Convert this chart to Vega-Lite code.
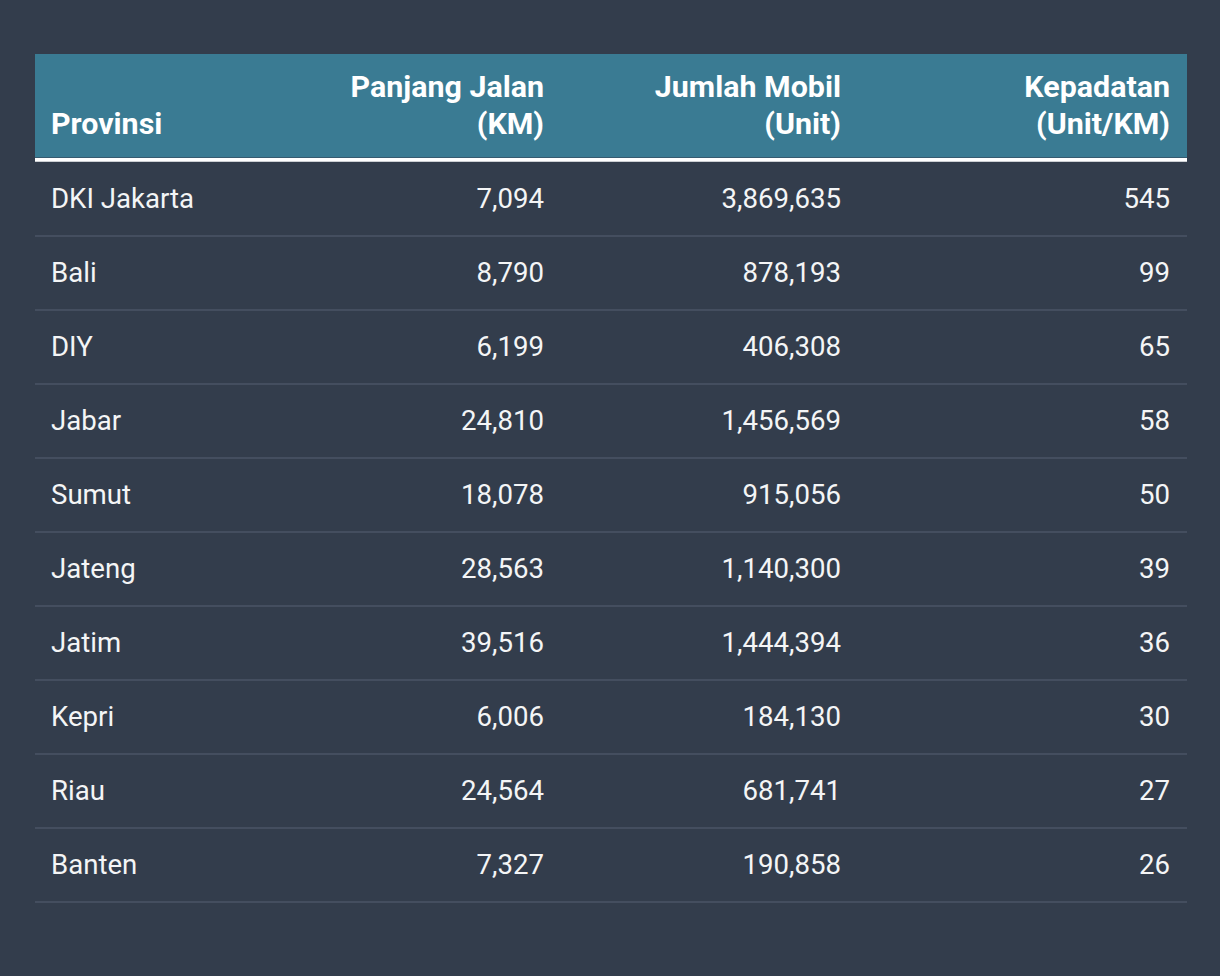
{
  "$schema": "https://vega.github.io/schema/vega-lite/v6.json",
  "background": "#333d4c",
  "padding": {"left": 34, "right": 34, "top": 54, "bottom": 75},
  "autosize": {"type": "pad"},
  "spacing": 0,
  "config": {"view": {"stroke": null}, "font": "Roboto"},
  "datasets": {
    "rows": [
      {"provinsi": "DKI Jakarta", "panjang_km": 7094, "jumlah_mobil": 3869635, "kepadatan": 545},
      {"provinsi": "Bali", "panjang_km": 8790, "jumlah_mobil": 878193, "kepadatan": 99},
      {"provinsi": "DIY", "panjang_km": 6199, "jumlah_mobil": 406308, "kepadatan": 65},
      {"provinsi": "Jabar", "panjang_km": 24810, "jumlah_mobil": 1456569, "kepadatan": 58},
      {"provinsi": "Sumut", "panjang_km": 18078, "jumlah_mobil": 915056, "kepadatan": 50},
      {"provinsi": "Jateng", "panjang_km": 28563, "jumlah_mobil": 1140300, "kepadatan": 39},
      {"provinsi": "Jatim", "panjang_km": 39516, "jumlah_mobil": 1444394, "kepadatan": 36},
      {"provinsi": "Kepri", "panjang_km": 6006, "jumlah_mobil": 184130, "kepadatan": 30},
      {"provinsi": "Riau", "panjang_km": 24564, "jumlah_mobil": 681741, "kepadatan": 27},
      {"provinsi": "Banten", "panjang_km": 7327, "jumlah_mobil": 190858, "kepadatan": 26}
    ],
    "header": [{"h": 1}]
  },
  "vconcat": [
    {
      "width": 1152,
      "height": 103.5,
      "view": {"fill": "#3a7b93", "stroke": null},
      "data": {"name": "header"},
      "layer": [
        {
          "mark": {"type": "text", "align": "left", "baseline": "middle", "dy": -17.5, "font": "Roboto", "fontWeight": "bold", "fontSize": 30.4, "lineHeight": 37, "color": "#ffffff"},
          "encoding": {
            "x": {"datum": 1.389, "type": "quantitative", "scale": {"domain": [0, 100], "nice": false, "zero": false}, "axis": null},
            "text": {"value": ["", "Provinsi"]}
          }
        },
        {
          "mark": {"type": "text", "align": "right", "baseline": "middle", "dy": -17.5, "font": "Roboto", "fontWeight": "bold", "fontSize": 30.4, "lineHeight": 37, "color": "#ffffff"},
          "encoding": {
            "x": {"datum": 44.184, "type": "quantitative", "scale": {"domain": [0, 100], "nice": false, "zero": false}, "axis": null},
            "text": {"value": ["Panjang Jalan", "(KM)"]}
          }
        },
        {
          "mark": {"type": "text", "align": "right", "baseline": "middle", "dy": -17.5, "font": "Roboto", "fontWeight": "bold", "fontSize": 30.4, "lineHeight": 37, "color": "#ffffff"},
          "encoding": {
            "x": {"datum": 69.965, "type": "quantitative", "scale": {"domain": [0, 100], "nice": false, "zero": false}, "axis": null},
            "text": {"value": ["Jumlah Mobil", "(Unit)"]}
          }
        },
        {
          "mark": {"type": "text", "align": "right", "baseline": "middle", "dy": -17.5, "font": "Roboto", "fontWeight": "bold", "fontSize": 30.4, "lineHeight": 37, "color": "#ffffff"},
          "encoding": {
            "x": {"datum": 98.524, "type": "quantitative", "scale": {"domain": [0, 100], "nice": false, "zero": false}, "axis": null},
            "text": {"value": ["Kepadatan", "(Unit/KM)"]}
          }
        }
      ]
    },
    {
      "width": 1152,
      "height": 3.5,
      "view": {"fill": "#ffffff", "stroke": null},
      "data": {"name": "header"},
      "mark": {"type": "rect", "color": "#ffffff"},
      "encoding": {}
    },
    {
      "width": 1152,
      "height": 740,
      "data": {"name": "rows"},
      "layer": [
        {
          "mark": {"type": "rule", "color": "#4b5566", "strokeWidth": 1.5},
          "encoding": {
            "y": {"field": "provinsi", "type": "nominal", "sort": null, "bandPosition": 1, "scale": {"paddingInner": 0, "paddingOuter": 0}, "axis": null}
          }
        },
        {
          "mark": {"type": "text", "align": "left", "baseline": "middle", "dy": 1, "font": "Roboto", "fontSize": 27.6, "color": "#f4f5f6"},
          "encoding": {
            "y": {"field": "provinsi", "type": "nominal", "sort": null, "scale": {"paddingInner": 0, "paddingOuter": 0}, "axis": null},
            "x": {"datum": 1.389, "type": "quantitative", "scale": {"domain": [0, 100], "nice": false, "zero": false}, "axis": null},
            "text": {"field": "provinsi", "type": "nominal"}
          }
        },
        {
          "mark": {"type": "text", "align": "right", "baseline": "middle", "dy": 1, "font": "Roboto", "fontSize": 27.6, "color": "#f4f5f6"},
          "encoding": {
            "y": {"field": "provinsi", "type": "nominal", "sort": null, "scale": {"paddingInner": 0, "paddingOuter": 0}, "axis": null},
            "x": {"datum": 44.184, "type": "quantitative", "scale": {"domain": [0, 100], "nice": false, "zero": false}, "axis": null},
            "text": {"field": "panjang_km", "type": "quantitative", "format": ",.0f"}
          }
        },
        {
          "mark": {"type": "text", "align": "right", "baseline": "middle", "dy": 1, "font": "Roboto", "fontSize": 27.6, "color": "#f4f5f6"},
          "encoding": {
            "y": {"field": "provinsi", "type": "nominal", "sort": null, "scale": {"paddingInner": 0, "paddingOuter": 0}, "axis": null},
            "x": {"datum": 69.965, "type": "quantitative", "scale": {"domain": [0, 100], "nice": false, "zero": false}, "axis": null},
            "text": {"field": "jumlah_mobil", "type": "quantitative", "format": ",.0f"}
          }
        },
        {
          "mark": {"type": "text", "align": "right", "baseline": "middle", "dy": 1, "font": "Roboto", "fontSize": 27.6, "color": "#f4f5f6"},
          "encoding": {
            "y": {"field": "provinsi", "type": "nominal", "sort": null, "scale": {"paddingInner": 0, "paddingOuter": 0}, "axis": null},
            "x": {"datum": 98.524, "type": "quantitative", "scale": {"domain": [0, 100], "nice": false, "zero": false}, "axis": null},
            "text": {"field": "kepadatan", "type": "quantitative", "format": ",.0f"}
          }
        }
      ]
    }
  ]
}
